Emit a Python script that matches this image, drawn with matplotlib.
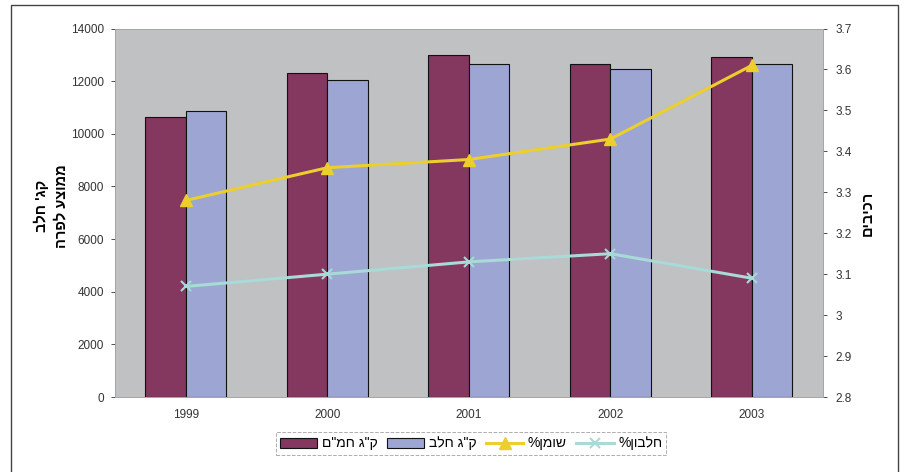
import matplotlib
matplotlib.use("Agg")
import matplotlib.pyplot as plt
from matplotlib.patches import Rectangle
import numpy as np

plt.rcParams["font.family"] = ["Liberation Sans", "DejaVu Sans"]

years = ["1999", "2000", "2001", "2002", "2003"]
kg_solids = [10650, 12300, 13000, 12650, 12900]
kg_milk = [10850, 12050, 12650, 12450, 12650]
fat_pct = [3.28, 3.36, 3.38, 3.43, 3.61]
protein_pct = [3.07, 3.10, 3.13, 3.15, 3.09]

left_ticks = [0, 2000, 4000, 6000, 8000, 10000, 12000, 14000]
right_ticks = [2.8, 2.9, 3.0, 3.1, 3.2, 3.3, 3.4, 3.5, 3.6, 3.7]
right_labels = ["2.8", "2.9", "3", "3.1", "3.2", "3.3", "3.4", "3.5", "3.6", "3.7"]


def rtl(s):
    # matplotlib has no bidi, so hand it the visual order
    return s[::-1]


label_solids = rtl('ק"ג חמ"ם')
label_milk = rtl('ק"ג חלב')
label_fat = rtl("שומן%")
label_protein = rtl("חלבון%")

W, H = 907, 472
fig = plt.figure(figsize=(W / 100, H / 100), dpi=100)
fig.patch.set_facecolor("white")

ax = fig.add_axes([115 / W, 1 - 397 / H, (822.7 - 115) / W, (397 - 28.5) / H])
ax.set_facecolor("#bfc1c2")

x = np.arange(len(years))
w = 0.2857
b1 = ax.bar(x - w / 2, kg_solids, w, color="#84375f", edgecolor="#111111",
            linewidth=0.8, label=label_solids, zorder=2)
b2 = ax.bar(x + w / 2, kg_milk, w, color="#9da5d3", edgecolor="#111111",
            linewidth=0.8, label=label_milk, zorder=2)

ax.set_xlim(-0.5, len(years) - 0.5)
ax.set_ylim(0, 14000)
ax.set_yticks(left_ticks)
ax.set_yticklabels([str(t) for t in left_ticks])
ax.set_xticks(x)
ax.set_xticklabels(years)
ax.tick_params(axis="both", labelsize=8.5, colors="#333333", length=3,
               width=0.6)
ax.tick_params(axis="x", length=0, pad=9)
ax.tick_params(axis="y", pad=5)

ax2 = ax.twinx()
ax2.set_ylim(2.8, 3.7)
ax2.set_yticks(right_ticks)
ax2.set_yticklabels(right_labels)
ax2.tick_params(axis="y", labelsize=8.5, colors="#333333", length=3,
                width=0.6, pad=6)

l1, = ax2.plot(x, fat_pct, color="#ecce2c", linewidth=2.2, marker="^",
               markersize=8, label=label_fat, zorder=3)
l2, = ax2.plot(x, protein_pct, color="#a8dad8", linewidth=2.2, marker="x",
               markersize=7, markeredgewidth=1.5, label=label_protein,
               zorder=3)

for a in (ax, ax2):
    for s in a.spines.values():
        s.set_color("#a5a5a5")
        s.set_linewidth(0.6)

fig.text(51 / W, 1 - 206 / H, rtl("קג' חלב") + "\n" + rtl("ממוצע לפרה"),
         rotation=90, ha="center", va="center", fontsize=10.5,
         fontweight="bold", linespacing=1.5, multialignment="center")
fig.text(868 / W, 1 - 213 / H, rtl("רכיבים"), rotation=90, ha="center",
         va="center", fontsize=10.5, fontweight="bold")

leg = fig.legend(handles=[b1, b2, l1, l2], loc="center",
                 bbox_to_anchor=(471 / W, 1 - 443.5 / H), ncol=4,
                 fontsize=10, handlelength=2.7, handleheight=0.75,
                 handletextpad=0.3, columnspacing=0.7, borderpad=0.3,
                 numpoints=1, fancybox=False)
frame = leg.get_frame()
frame.set_linestyle("--")
frame.set_edgecolor("#9a9a9a")
frame.set_linewidth(0.7)

fig.patches.append(Rectangle((11 / W, -0.05), (898 - 11) / W, 1.05 - 5 / H,
                             transform=fig.transFigure, fill=False,
                             edgecolor="#444444", linewidth=1.0))

fig.savefig("out.png", dpi=100)
